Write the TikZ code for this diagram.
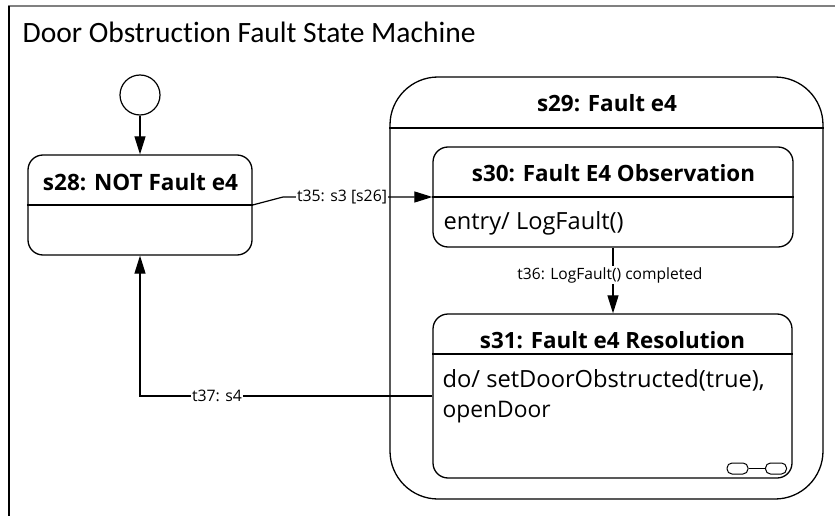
\documentclass[tikz,border=0pt]{standalone}
\usepackage{fontspec}
\usepackage{graphicx}
\setmainfont{Open Sans}
\newfontfamily\titlefont[Ligatures=NoCommon]{Carlito}
\usetikzlibrary{arrows.meta}
\newcommand{\fw}[2]{\resizebox{#1pt}{!}{#2}}
\begin{document}
\begin{tikzpicture}[x=1pt,y=-1pt,line width=1.2pt,
  statebox/.style={draw, rounded corners=15pt, line width=1.3pt, inner sep=0pt},
  stitle/.style={font=\bfseries, inner sep=0pt},
  txt/.style={inner sep=0pt, anchor=west},
  lbl/.style={fill=white, inner sep=1pt},
  tr/.style={-{Triangle[length=18pt,width=11pt]}, line width=1.2pt},
  icon/.style={draw, rounded corners=5pt, minimum width=21pt, minimum height=11pt, inner sep=0pt, line width=1pt}]
\useasboundingbox (0,0) rectangle (835,516);
% frame
\draw[black!50, line width=2.5pt] (8,6) -- (835,6);
\draw[line width=2pt] (9,6) -- (9,516);
\node[txt] (title) at (22,32) {\titlefont\fw{453}{Door Obstruction Fault State Machine}};
% initial + s28
\node[draw, circle, minimum size=40pt, inner sep=0pt, line width=1.2pt] (init) at (140,95) {};
\node[statebox, minimum width=224pt, minimum height=100pt] (s28) at (140,205) {};
\draw (s28.west) -- (s28.east);
\node[stitle] (s28t) at (140.5,182) {\fw{195}{s28: NOT Fault e4}};
\draw[tr] (init) -- (s28);
% s29
\node[statebox, rounded corners=48pt, minimum width=433pt, minimum height=422pt] (s29) at (606.5,288) {};
\draw (s29.west |- 0,128) -- (s29.east |- 0,128);
\node[stitle] (s29t) at (607,103) {\fw{140}{s29: Fault e4}};
% s30
\node[statebox, minimum width=360pt, minimum height=100pt] (s30) at (613,197) {};
\draw (s30.west) -- (s30.east);
\node[stitle] (s30t) at (613.5,173) {\fw{283}{s30: Fault E4 Observation}};
\node[txt] (s30e) at (443,223) {\fw{180}{entry/ LogFault()}};
% s31
\node[statebox, minimum width=359pt, minimum height=164pt] (s31) at (612.5,396) {};
\draw (s31.west |- 0,354) -- (s31.east |- 0,354);
\node[stitle] (s31t) at (612.5,340) {\fw{265}{s31: Fault e4 Resolution}};
\node[txt] (s31d1) at (442,380) {\fw{322}{do/ setDoorObstructed(true),}};
\node[txt] (s31d2) at (442,412) {\fw{108}{openDoor}};
\node[icon] (c1) at (737.5,468.5) {};
\node[icon] (c2) at (776,468.5) {};
\draw[line width=1pt] (c1) -- (c2);
% transitions
\coordinate (k35) at (283,197);
\draw[tr] (s28.east) -- (k35) -- (s30.west);
\node[lbl] (l35) at (342,197) {\fw{90}{t35: s3 [s26]}};
\draw[tr] (s30.south) -- (s30.south |- s31.north);
\node[lbl] (l36) at (610,275) {\fw{185}{t36: LogFault() completed}};
\draw[tr] (s31.west) -- (s28.south |- s31.west) -- (s28.south);
\node[lbl] (l37) at (217,396) {\fw{50}{t37: s4}};
\end{tikzpicture}
\end{document}
